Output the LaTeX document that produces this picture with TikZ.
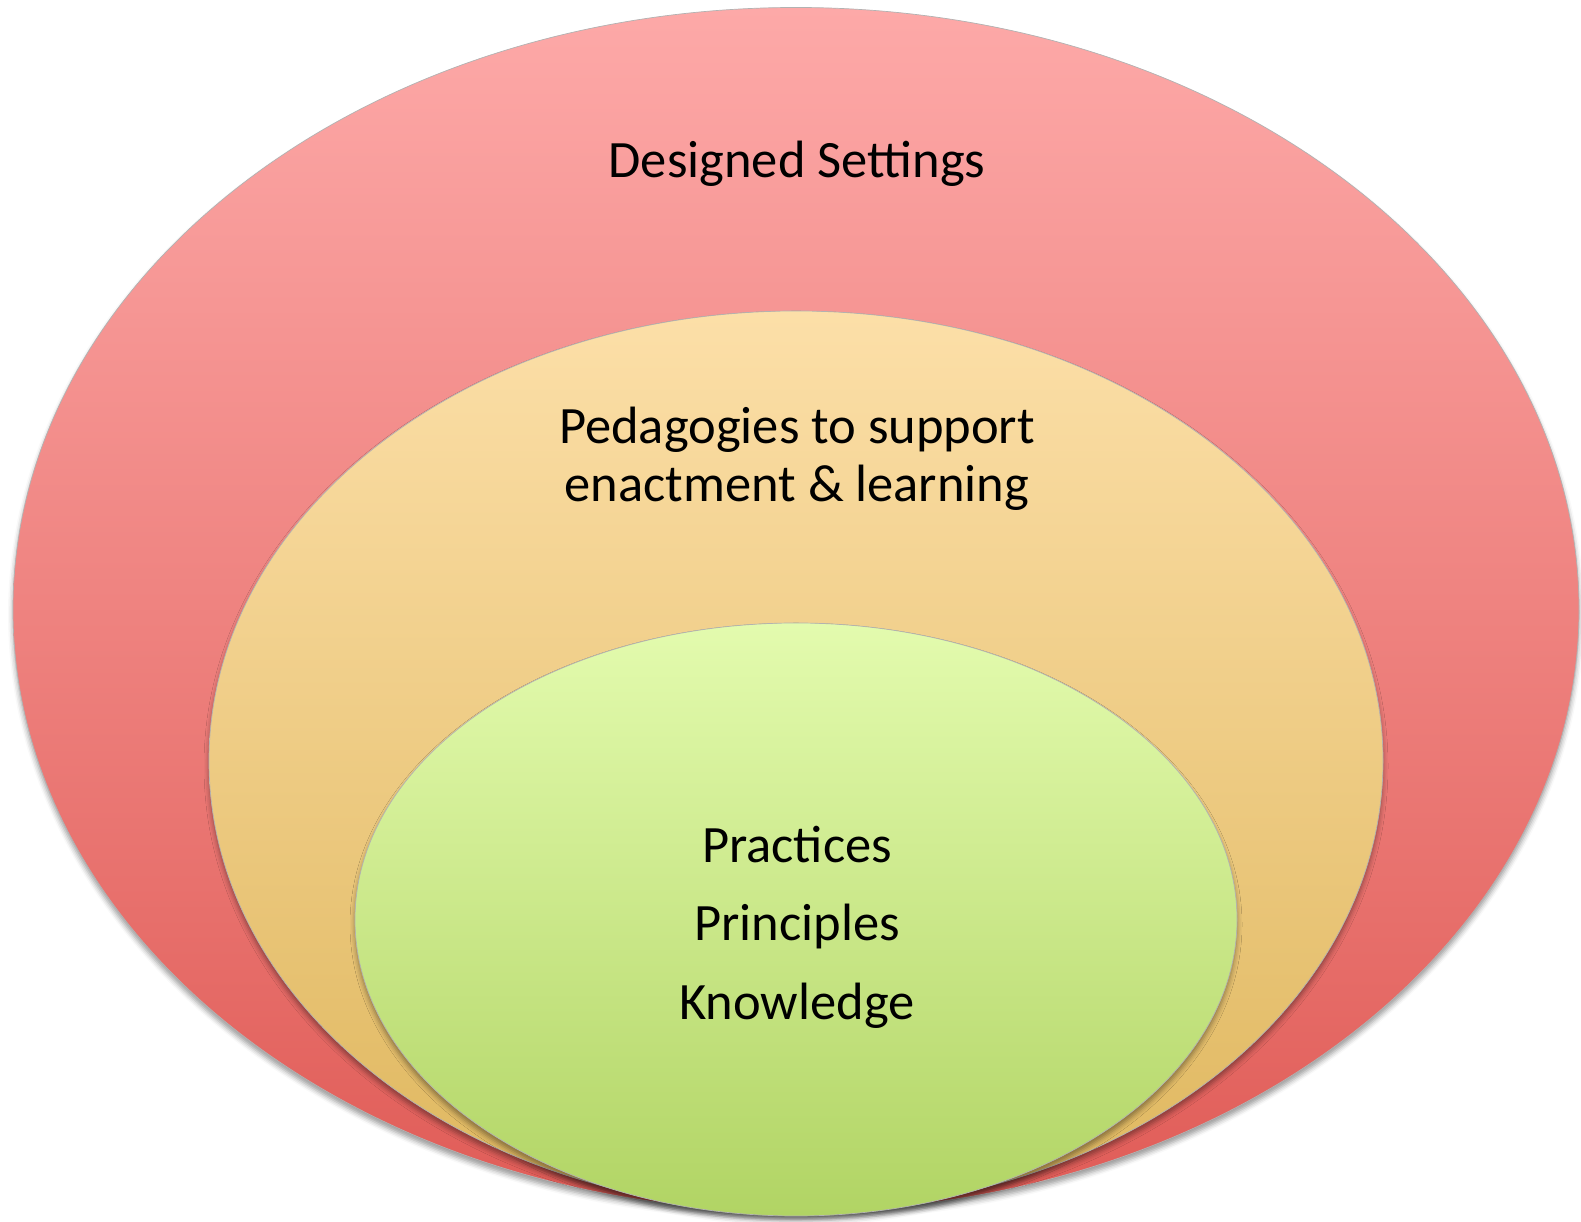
\documentclass[tikz,border=0pt]{standalone}
\usepackage{xcolor}
\usepackage{fontspec}
\setmainfont{Carlito}
\usetikzlibrary{shadows.blur}
\definecolor{settingstop}{RGB}{253,169,168}
\definecolor{settingsbot}{RGB}{224,92,87}
\definecolor{pedagogytop}{RGB}{252,223,168}
\definecolor{pedagogybot}{RGB}{223,183,94}
\definecolor{coretop}{RGB}{227,251,174}
\definecolor{corebot}{RGB}{177,212,100}

\begin{document}
\begin{tikzpicture}[x=1pt,y=1pt,
  layer/.style={draw=black!30, line width=0.7pt, shading=axis, shading angle=0,
    blur shadow={shadow xshift=0pt, shadow yshift=-5pt, shadow blur radius=5pt, shadow opacity=40}},
  label/.style={anchor=base, font=\fontsize{52.5}{60}\selectfont, text=black}]
\useasboundingbox (0,0) rectangle (1581,1222);

\path[layer, top color=settingstop, bottom color=settingsbot] (796,612.5) ellipse (783 and 602);
\path[layer, top color=pedagogytop, bottom color=pedagogybot] (796,461) ellipse (587 and 450);
\path[layer, top color=coretop, bottom color=corebot] (796,302.5) ellipse (441 and 296.5);

\node[label] (settings) at (797,1044) {Designed Settings};
\node[label] (pedagogy) at (797,778) {Pedagogies to support};
\node[label] (enact) at (797,720) {enactment \& learning};
\node[label] (practices) at (797,359) {Practices};
\node[label] (principles) at (797,281) {Principles};
\node[label] (knowledge) at (797,202) {Knowledge};
\end{tikzpicture}
\end{document}
